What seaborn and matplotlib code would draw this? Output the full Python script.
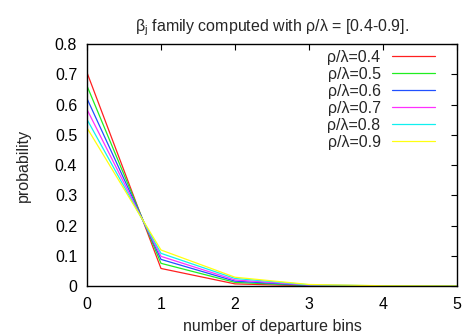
import pandas as pd
import matplotlib
matplotlib.use('Agg')
import matplotlib.pyplot as plt
import seaborn as sns

sns.set_style('white')
plt.rcParams['font.family'] = ['Liberation Sans', 'DejaVu Sans']
plt.rcParams['mathtext.fontset'] = 'custom'
plt.rcParams['mathtext.rm'] = 'Liberation Sans'
plt.rcParams['mathtext.it'] = 'Liberation Sans'

# values
bins = [0, 1, 2, 3, 4, 5]
ratios = ['0.4', '0.5', '0.6', '0.7', '0.8', '0.9']
beta_04 = [0.706, 0.058, 0.007, 0.0005, 0.0, 0.0]
beta_05 = [0.662, 0.075, 0.012, 0.0012, 0.0001, 0.0]
beta_06 = [0.620, 0.088, 0.016, 0.002, 0.0002, 0.0]
beta_07 = [0.584, 0.098, 0.020, 0.003, 0.0004, 0.0]
beta_08 = [0.551, 0.108, 0.025, 0.004, 0.0006, 0.0001]
beta_09 = [0.523, 0.119, 0.029, 0.005, 0.0008, 0.0001]
colors = ['#ff2020', '#20ee20', '#2050ff', '#ff30ff', '#10f0f0', '#ffff10']

rows = []
for r, vals in zip(ratios, [beta_04, beta_05, beta_06, beta_07, beta_08, beta_09]):
    for b, v in zip(bins, vals):
        rows.append({'bin': b, 'prob': v, 'ratio': f'ρ/λ={r}'})
df = pd.DataFrame(rows)

fs = 11.5
fig = plt.figure(figsize=(4.65, 3.34), dpi=100)
ax = fig.add_axes([0.187, 0.1437, 0.796, 0.7245])

sns.lineplot(data=df, x='bin', y='prob', hue='ratio', palette=colors,
             linewidth=0.9, ax=ax)

ax.set_xlim(0, 5)
ax.set_ylim(0, 0.8)
ax.set_xticks(bins)
ax.set_yticks([0, 0.1, 0.2, 0.3, 0.4, 0.5, 0.6, 0.7, 0.8])
ax.set_yticklabels(['0', '0.1', '0.2', '0.3', '0.4', '0.5', '0.6', '0.7', '0.8'])
ax.tick_params(direction='in', length=4, width=0.8, top=True, right=True,
               labelsize=fs, pad=7, colors='black')
ax.tick_params(axis='x', pad=8)
for s in ax.spines.values():
    s.set_color('black')
    s.set_linewidth(1.0)

ax.set_xlabel('number of departure bins', fontsize=fs, labelpad=5)
ax.set_ylabel('probability', fontsize=fs, labelpad=17)
ax.set_title(r'β$_\mathregular{j}$ family computed with ρ/λ = [0.4-0.9].',
             fontsize=fs, pad=9)

ax.legend(loc='upper right', bbox_to_anchor=(0.94, 0.975), frameon=False,
          markerfirst=False, fontsize=fs, handlelength=2.7, handletextpad=0.7,
          labelspacing=0.12, borderaxespad=0, borderpad=0, title=None)

fig.savefig('out.png', dpi=100)
